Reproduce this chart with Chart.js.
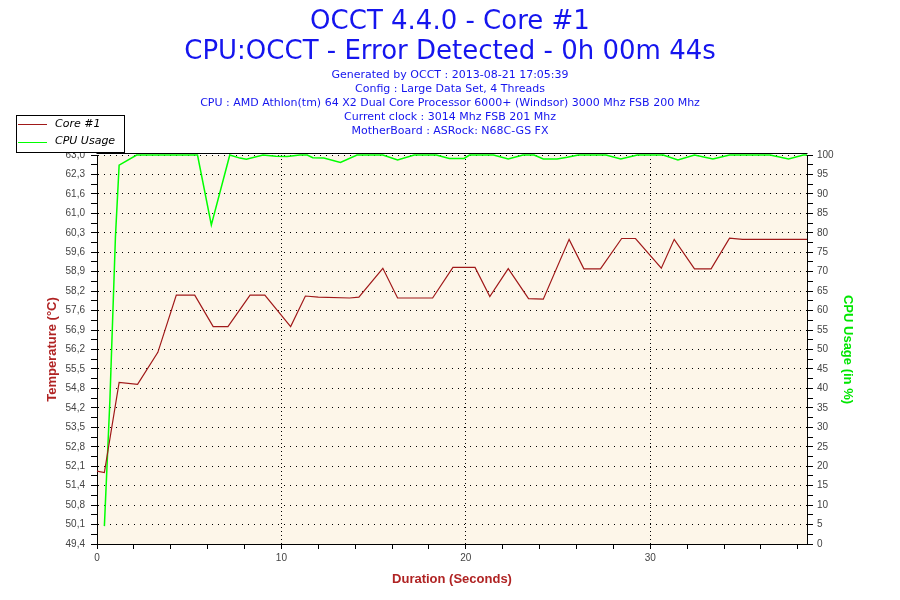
<!DOCTYPE html>
<html>
<head>
<meta charset="utf-8">
<script src="https://cdn.jsdelivr.net/npm/chart.js@4"></script>
<style>
  body { margin: 0; background: #fff; }
  #wrap { width: 900px; height: 600px; }
</style>
</head>
<body>
<div id="wrap"><canvas id="chart" width="900" height="600"></canvas></div>
<script>
// readings taken off the OCCT graph
const tempTime = [0, 0.4, 1.2, 2.2, 3.3, 4.3, 5.3, 6.3, 7.1, 8.3, 9.1, 10.5, 11.3, 12.0, 13.7, 14.2, 15.5, 16.3, 18.2,
    19.3, 20.5, 21.3, 22.3, 23.4, 24.2, 25.6, 26.4, 27.3, 28.45, 29.2, 30.6, 31.3, 32.4, 33.3, 34.3, 35.0, 38.5];
const tempValues = [51.95, 51.9, 55.05, 54.98, 56.1, 58.1, 58.1, 57.0, 57.0, 58.1, 58.1, 57.0, 58.07, 58.03, 58.0, 58.03, 59.04, 58.0, 58.0,
    59.07, 59.07, 58.05, 59.03, 57.98, 57.96, 60.05, 59.02, 59.02, 60.08, 60.08, 59.04, 60.05, 59.02, 59.02, 60.09, 60.05, 60.05];

const cpuTime = [0.4, 0.7, 1.0, 1.2, 2.15, 5.45, 6.2, 7.2, 7.75, 8.1, 9.0, 9.7, 10.3, 11.0, 11.4, 11.7, 12.3, 13.2, 14.1, 15.5,
    16.3, 17.2, 18.4, 19.1, 19.9, 20.2, 21.5, 22.3, 23.1, 23.7, 24.2, 24.95, 25.5, 26.1, 27.6, 28.4, 29.3, 30.7, 31.5, 32.4,
    33.4, 34.3, 36.5, 37.5, 38.3, 38.5];
const cpuValues = [4.6, 37, 79, 97.4, 100, 100, 82, 100, 99.2, 98.9, 100, 99.7, 99.6, 100, 100, 99.3, 99.2, 98.1, 100, 100,
    98.7, 100, 100, 99.1, 99.1, 100, 100, 99, 100, 100, 99, 99, 99.4, 100, 100, 99, 100, 100, 98.7, 100,
    99, 100, 100, 99, 100, 100];

const tempTickLabels = ['49,4', '50,1', '50,8', '51,4', '52,1', '52,8', '53,5', '54,2', '54,8', '55,5', '56,2',
    '56,9', '57,6', '58,2', '58,9', '59,6', '60,3', '61,0', '61,6', '62,3', '63,0'];
const cpuTickLabels = ['0', '5', '10', '15', '20', '25', '30', '35', '40', '45', '50',
    '55', '60', '65', '70', '75', '80', '85', '90', '95', '100'];
const durationTickLabels = ['0', '10', '20', '30'];

const tempMin = 49.4, tempMax = 63.0;
const cpuMin = 0, cpuMax = 100;
const durMax = 38.5;

const blue = '#1515ee';
const axisRed = '#b02323';

// major + minor (half step) ticks, labels only on majors
function stepTicks(min, max, n) {
    let out = [];
    for (let i = 0; i <= n * 2; i++) out.push({ value: min + (max - min) * i / (n * 2), major: i % 2 === 0 });
    return out;
}

const plotBg = {
    id: 'plotBg',
    beforeDraw(chart) {
        const a = chart.chartArea, ctx = chart.ctx;
        ctx.save();
        ctx.fillStyle = '#fdf6e9';
        ctx.fillRect(a.left, a.top, a.right - a.left, a.bottom - a.top);
        ctx.restore();
    },
    beforeDatasetsDraw(chart) {
        const a = chart.chartArea, ctx = chart.ctx;
        ctx.save();
        ctx.strokeStyle = '#000';
        ctx.lineWidth = 1;
        ctx.beginPath();
        ctx.moveTo(Math.round(a.left) - 0.5, Math.round(a.top) - 1.5);
        ctx.lineTo(Math.round(a.right) + 0.5, Math.round(a.top) - 1.5);
        ctx.stroke();
        ctx.restore();
    }
};

const boxLegend = {
    id: 'boxLegend',
    afterDraw(chart) {
        const ctx = chart.ctx;
        ctx.save();
        ctx.fillStyle = '#fff';
        ctx.fillRect(16, 115, 108, 37);
        ctx.strokeStyle = '#000';
        ctx.lineWidth = 1;
        ctx.strokeRect(16.5, 115.5, 108, 37);
        ctx.font = 'italic 11px "DejaVu Sans"';
        ctx.textBaseline = 'middle';
        chart.data.datasets.forEach((ds, i) => {
            const y = 124 + i * 17.5;
            ctx.strokeStyle = ds.borderColor;
            ctx.lineWidth = 1;
            ctx.beginPath();
            ctx.moveTo(18, Math.round(y) + 0.5);
            ctx.lineTo(47, Math.round(y) + 0.5);
            ctx.stroke();
            ctx.fillStyle = '#000';
            ctx.fillText(ds.label, 55, y);
        });
        ctx.restore();
    }
};

const tickFont = { family: 'Liberation Sans', size: 10 };

new Chart(document.getElementById('chart'), {
    type: 'line',
    data: {
        datasets: [{
            label: 'Core #1',
            data: tempTime.map((t, i) => ({ x: t, y: tempValues[i] })),
            borderColor: '#a01919',
            borderWidth: 1.2,
            pointRadius: 0,
            tension: 0,
            clip: 3,
            yAxisID: 'yT'
        }, {
            label: 'CPU Usage',
            data: cpuTime.map((t, i) => ({ x: t, y: cpuValues[i] })),
            borderColor: '#00ff00',
            borderWidth: 1.5,
            pointRadius: 0,
            tension: 0,
            clip: 3,
            yAxisID: 'yC'
        }]
    },
    options: {
        responsive: false,
        animation: false,
        layout: { padding: 0 },
        plugins: {
            legend: { display: false },
            tooltip: { enabled: false },
            title: {
                display: true,
                text: ['OCCT 4.4.0 - Core #1', 'CPU:OCCT - Error Detected - 0h 00m 44s'],
                color: blue,
                font: { family: 'DejaVu Sans', size: 26, weight: 'normal', lineHeight: '30px' },
                padding: { top: 7, bottom: 0 }
            },
            subtitle: {
                display: true,
                text: ['Generated by OCCT : 2013-08-21 17:05:39',
                    'Config : Large Data Set, 4 Threads',
                    'CPU : AMD Athlon(tm) 64 X2 Dual Core Processor 6000+ (Windsor) 3000 Mhz FSB 200 Mhz',
                    'Current clock : 3014 Mhz FSB 201 Mhz',
                    'MotherBoard : ASRock: N68C-GS FX'],
                color: blue,
                font: { family: 'DejaVu Sans', size: 11, lineHeight: '14px' },
                padding: { top: 1, bottom: 17 }
            }
        },
        scales: {
            x: {
                type: 'linear',
                min: 0,
                max: durMax,
                afterFit: s => { s.height = 56; },
                afterBuildTicks: s => {
                    let t = [];
                    for (let v = 0; v <= durMax; v += 2) t.push({ value: v });
                    s.ticks = t;
                },
                ticks: {
                    autoSkip: false,
                    maxRotation: 0,
                    padding: 3,
                    color: '#444',
                    font: tickFont,
                    callback: v => durationTickLabels.includes(String(v)) ? String(v) : ''
                },
                grid: {
                    color: c => (c.tick && c.tick.value % 10 === 0 && c.tick.value > 0) ? '#000' : 'rgba(0,0,0,0)',
                    tickColor: '#000',
                    tickLength: 5,
                    tickBorderDash: []
                },
                border: { display: true, color: '#000', width: 1, dash: [1, 3] },
                title: {
                    display: true,
                    text: 'Duration (Seconds)',
                    color: axisRed,
                    font: { family: 'Liberation Sans', size: 13, weight: 'bold' },
                    padding: { top: 0, bottom: 13 }
                }
            },
            yT: {
                type: 'linear',
                position: 'left',
                min: tempMin,
                max: tempMax,
                afterFit: s => { s.width = 97; },
                afterBuildTicks: s => { s.ticks = stepTicks(tempMin, tempMax, tempTickLabels.length - 1); },
                ticks: {
                    autoSkip: false,
                    padding: 6,
                    color: '#444',
                    font: tickFont,
                    callback: (v, i) => i % 2 === 0 ? tempTickLabels[i / 2] : ''
                },
                grid: {
                    color: c => (c.tick && c.index % 2 === 0) ? '#000' : 'rgba(0,0,0,0)',
                    tickColor: '#000',
                    tickLength: 6,
                    tickBorderDash: []
                },
                border: { display: true, color: '#000', width: 1, dash: [1, 5] },
                title: {
                    display: true,
                    text: 'Temperature (°C)',
                    color: axisRed,
                    font: { family: 'Liberation Sans', size: 13, weight: 'bold' },
                    padding: { top: 45, bottom: 0 }
                }
            },
            yC: {
                type: 'linear',
                position: 'right',
                min: cpuMin,
                max: cpuMax,
                afterFit: s => { s.width = 93; },
                afterBuildTicks: s => { s.ticks = stepTicks(cpuMin, cpuMax, cpuTickLabels.length - 1); },
                ticks: {
                    autoSkip: false,
                    padding: 4,
                    color: '#444',
                    font: tickFont,
                    callback: (v, i) => i % 2 === 0 ? cpuTickLabels[i / 2] : ''
                },
                grid: {
                    drawOnChartArea: false,
                    tickColor: '#000',
                    tickLength: 6,
                    tickBorderDash: []
                },
                border: { display: true, color: '#000', width: 1 },
                title: {
                    display: true,
                    text: 'CPU Usage (in %)',
                    color: '#00e600',
                    font: { family: 'Liberation Sans', size: 13, weight: 'bold' },
                    padding: { top: 45, bottom: 0 }
                }
            }
        }
    },
    plugins: [plotBg, boxLegend]
});
</script>
</body>
</html>
